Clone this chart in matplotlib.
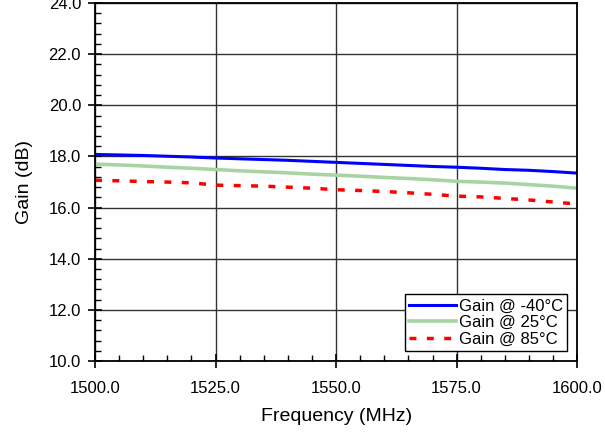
import numpy as np
from matplotlib import pyplot as plt
from matplotlib.ticker import MultipleLocator, FormatStrFormatter

#   data
freq = [1500, 1505, 1510, 1515, 1520, 1525, 1530, 1535, 1540, 1545, 1550,
        1555, 1560, 1565, 1570, 1575, 1580, 1585, 1590, 1595, 1600]
gain_m40 = [18.08, 18.06, 18.04, 18.01, 17.98, 17.94, 17.91, 17.88, 17.85, 17.81, 17.77,
            17.73, 17.69, 17.65, 17.61, 17.58, 17.54, 17.49, 17.46, 17.41, 17.35]
gain_25 = [17.70, 17.67, 17.63, 17.58, 17.54, 17.49, 17.44, 17.40, 17.36, 17.31, 17.27,
           17.23, 17.18, 17.14, 17.09, 17.03, 17.00, 16.96, 16.90, 16.84, 16.76]
gain_85 = [17.07, 17.05, 17.02, 17.00, 16.97, 16.88, 16.86, 16.84, 16.80, 16.76, 16.70,
           16.67, 16.63, 16.58, 16.52, 16.45, 16.42, 16.36, 16.30, 16.22, 16.14]
labels = ['Gain @ -40\u00b0C', 'Gain @ 25\u00b0C', 'Gain @ 85\u00b0C']

plt.rcParams['font.family'] = ['Liberation Sans', 'DejaVu Sans']

fig = plt.figure(figsize=(6.05, 4.34), dpi=100)
ax = fig.add_axes([0.157, 0.168, 0.797, 0.825])

ax.plot(freq, gain_m40, color='#0000ff', lw=2.2, label=labels[0])
ax.plot(freq, gain_25, color='#a8d4a4', lw=2.6, label=labels[1])
ax.plot(freq, gain_85, color='#ff0000', lw=2.5, ls=(0, (2, 3)), label=labels[2])

ax.set_xlim(1500, 1600)
ax.set_ylim(10, 24)
ax.xaxis.set_major_locator(MultipleLocator(25))
ax.xaxis.set_minor_locator(MultipleLocator(5))
ax.yaxis.set_major_locator(MultipleLocator(2))
ax.yaxis.set_minor_locator(MultipleLocator(0.4))
ax.xaxis.set_major_formatter(FormatStrFormatter('%.1f'))
ax.yaxis.set_major_formatter(FormatStrFormatter('%.1f'))
ax.tick_params(which='major', direction='inout', length=10, width=1.2, labelsize=12)
ax.tick_params(axis='x', which='major', pad=9)
ax.tick_params(axis='y', which='major', pad=5)
ax.tick_params(which='minor', direction='in', length=4, width=1)
ax.grid(True, which='major', color='#333333', lw=1)
for s in ax.spines.values():
    s.set_linewidth(1.3)

ax.set_xlabel('Frequency (MHz)', fontsize=14, labelpad=9)
ax.set_ylabel('Gain (dB)', fontsize=14, labelpad=11)

leg = ax.legend(loc='lower right', fontsize=12, frameon=True, fancybox=False,
                edgecolor='black', framealpha=1, borderaxespad=0.6,
                handlelength=2.8, handletextpad=0.2, labelspacing=0.1,
                borderpad=0.25)
leg.get_frame().set_linewidth(1)

fig.savefig('out.png', dpi=100)
